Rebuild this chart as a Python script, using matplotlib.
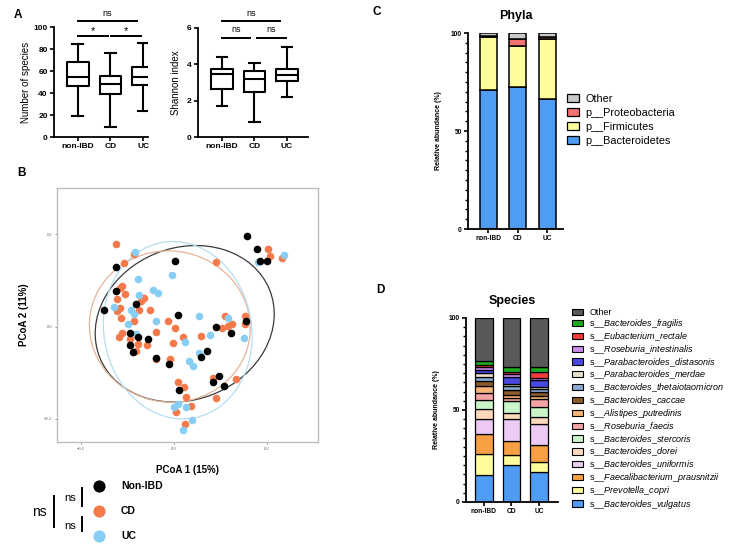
import matplotlib
matplotlib.use("Agg")
import matplotlib.pyplot as plt
import numpy as np
from matplotlib.patches import Ellipse, Patch
from matplotlib.lines import Line2D
from matplotlib.ticker import MultipleLocator

plt.rcParams['font.family'] = ['Liberation Sans', 'DejaVu Sans']
plt.rcParams['mathtext.fontset'] = 'custom'
plt.rcParams['mathtext.it'] = 'Liberation Sans:italic'
plt.rcParams['mathtext.rm'] = 'Liberation Sans'

grupos = ["non-IBD", "CD", "UC"]

# A: diversidad alfa (resumen de cajas)
especies_min = [19, 9, 23.5]
especies_q1 = [46, 39, 47]
especies_med = [55, 48, 54.5]
especies_q3 = [68, 55.5, 63.5]
especies_max = [84.5, 76, 85]

shannon_min = [1.70, 0.84, 2.18]
shannon_q1 = [2.62, 2.49, 3.09]
shannon_med = [3.46, 3.17, 3.41]
shannon_q3 = [3.72, 3.63, 3.74]
shannon_max = [4.41, 4.05, 4.96]

# B: PCoA
nonibd_x = [0.157, 0.179, 0.200, 0.002, -0.124, -0.124, -0.150, -0.081, 0.009, 0.155,
            0.091, 0.123, -0.094, -0.078, -0.057, -0.095, -0.088, 0.071, 0.058, -0.039,
            -0.011, 0.096, 0.083, 0.107, 0.010, 0.186]
nonibd_y = [0.195, 0.167, 0.143, 0.141, 0.128, 0.078, 0.035, 0.049, 0.025, 0.011,
            -0.002, -0.013, -0.014, -0.023, -0.027, -0.041, -0.056, -0.052, -0.067, -0.068,
            -0.081, -0.108, -0.120, -0.129, -0.138, 0.141]
cd_x = [-0.124, 0.202, 0.206, 0.232, 0.091, -0.107, -0.086, -0.111, -0.117, -0.105,
        -0.122, -0.116, -0.122, -0.114, -0.065, -0.071, -0.076, -0.052, -0.086, -0.012,
        0.002, -0.039, 0.019, -0.003, 0.057, 0.109, 0.117, 0.124, 0.104, 0.153,
        0.153, -0.112, -0.118, -0.078, -0.058, -0.081, -0.038, -0.009, 0.083, 0.134,
        0.009, 0.022, 0.026, 0.036, 0.091, 0.004, 0.024, -0.094]
cd_y = [0.179, 0.168, 0.153, 0.148, 0.139, 0.138, 0.157, 0.088, 0.084, 0.071,
        0.059, 0.040, 0.034, 0.018, 0.061, 0.056, 0.035, 0.036, 0.012, 0.013,
        -0.004, -0.011, -0.023, -0.035, -0.020, 0.022, 0.002, 0.005, -0.004, 0.023,
        0.006, -0.014, -0.023, -0.038, -0.041, -0.054, -0.070, -0.071, -0.112, -0.114,
        -0.120, -0.131, -0.153, -0.171, -0.155, -0.186, -0.210, -0.027]
uc_x = [-0.085, 0.236, 0.180, -0.004, -0.078, -0.045, -0.035, -0.076, -0.130, -0.093,
        -0.086, -0.100, -0.039, 0.053, 0.117, 0.078, -0.082, 0.024, 0.053, 0.032,
        0.040, 0.150, 0.001, 0.008, 0.026, 0.039, 0.019]
uc_y = [0.162, 0.155, 0.140, 0.111, 0.102, 0.079, 0.072, 0.068, 0.043, 0.036,
        0.027, 0.006, 0.012, 0.022, 0.019, -0.019, -0.016, -0.033, -0.058, -0.074,
        -0.085, -0.025, -0.175, -0.168, -0.174, -0.203, -0.224]

# elipses: centro x, centro y, ancho, alto, angulo (Non-IBD, CD, UC)
elipse_cx = [0.023, -0.009, 0.008]
elipse_cy = [0.006, 0.000, -0.008]
elipse_w = [0.394, 0.347, 0.318]
elipse_h = [0.329, 0.327, 0.386]
elipse_ang = [22, -10, 10]

# C: filos (%)
filos = ["p__Bacteroidetes", "p__Firmicutes", "p__Proteobacteria", "Other"]
bacteroidetes = [70.7, 72.3, 66.5]
firmicutes = [27.1, 20.9, 30.6]
proteobacteria = [0.7, 3.7, 0.9]
otros_filos = [1.5, 3.1, 2.0]

# D: especies (%), de abajo hacia arriba
especies = ["Bacteroides_vulgatus", "Prevotella_copri", "Faecalibacterium_prausnitzii",
            "Bacteroides_uniformis", "Bacteroides_dorei", "Bacteroides_stercoris",
            "Roseburia_faecis", "Alistipes_putredinis", "Bacteroides_caccae",
            "Bacteroides_thetaiotaomicron", "Parabacteroides_merdae",
            "Parabacteroides_distasonis", "Roseburia_intestinalis", "Eubacterium_rectale",
            "Bacteroides_fragilis", "Other"]
sp_nonibd = [14.8, 11.2, 10.8, 8.3, 5.3, 5.0, 4.0, 3.6, 2.9, 2.3, 1.9, 1.8, 1.2, 1.3, 2.0, 23.6]
sp_cd = [20.0, 5.6, 7.3, 12.0, 3.3, 6.9, 1.2, 1.8, 2.7, 2.2, 1.1, 3.9, 1.3, 1.3, 2.5, 26.9]
sp_uc = [16.1, 5.4, 9.5, 11.4, 4.0, 5.4, 4.3, 1.5, 2.3, 1.3, 1.1, 3.9, 1.3, 3.3, 2.3, 26.9]

col_grupos = ["#000000", "#f57a4b", "#88cdf3"]
col_elipses = ["#3a3a3a", "#e6b49c", "#b5def2"]
col_filos = ["#4e9cf4", "#fdfd9c", "#f27272", "#c9c9c9"]
col_especies = ["#4e9cf4", "#fdfd9c", "#f6a043", "#eccaf4", "#fcd9bc", "#c9f5c9",
                "#f5a3a3", "#f6b577", "#8a5a2b", "#8aa9d3", "#e9e2cb", "#4848e2",
                "#cd8bea", "#f23c3c", "#1eab1e", "#595959"]

fig = plt.figure(figsize=(7.33, 5.48), dpi=100)
W, H = 733, 548


def caja(l, t, r, b):
    return [l / W, 1 - b / H, (r - l) / W, (b - t) / H]


def ejes_graphpad(ax, tam=6):
    for s in ['top', 'right']:
        ax.spines[s].set_visible(False)
    for s in ['left', 'bottom']:
        ax.spines[s].set_linewidth(1.3)
    ax.tick_params(width=1.2, length=3, labelsize=tam, pad=1.5)
    for lab in ax.get_xticklabels() + ax.get_yticklabels():
        lab.set_fontweight('bold')


def cajas(ax, mn, q1, md, q3, mx):
    stats = [dict(whislo=mn[i], q1=q1[i], med=md[i], q3=q3[i], whishi=mx[i], fliers=[])
             for i in range(len(grupos))]
    lw = 1.5
    ax.bxp(stats, positions=range(len(grupos)), widths=0.67, capwidths=0.33,
           showfliers=False, boxprops=dict(linewidth=lw), whiskerprops=dict(linewidth=lw),
           capprops=dict(linewidth=lw), medianprops=dict(color='black', linewidth=lw))


def barra_sig(ax, x0, x1, y, txt, ytxt, tam):
    ax.plot([x0, x1], [y, y], color='black', lw=1.4, clip_on=False)
    ax.text((x0 + x1) / 2, ytxt, txt, ha='center', va='center', fontsize=tam, clip_on=False)


# ---- A1
ax1 = fig.add_axes(caja(54, 27, 148, 137))
cajas(ax1, especies_min, especies_q1, especies_med, especies_q3, especies_max)
ax1.set_xlim(-0.73, 2.15)
ax1.set_ylim(0, 100)
ax1.set_yticks([0, 20, 40, 60, 80, 100])
ax1.set_xticks(range(3))
ax1.set_xticklabels(grupos)
ax1.set_ylabel("Number of species", fontsize=7, labelpad=2)
ejes_graphpad(ax1)
barra_sig(ax1, 0, 0.91, 92, "*", 96.5, 8)
barra_sig(ax1, 1.03, 1.94, 92, "*", 96.5, 8)
barra_sig(ax1, 0, 1.82, 105.5, "ns", 112.5, 6.5)

# ---- A2
ax2 = fig.add_axes(caja(198, 28, 308, 137))
cajas(ax2, shannon_min, shannon_q1, shannon_med, shannon_q3, shannon_max)
ax2.set_xlim(-0.74, 2.65)
ax2.set_ylim(0, 6)
ax2.set_yticks([0, 2, 4, 6])
ax2.set_xticks(range(3))
ax2.set_xticklabels(grupos)
ax2.set_ylabel("Shannon index", fontsize=7, labelpad=4)
ejes_graphpad(ax2)
barra_sig(ax2, 0, 0.86, 5.47, "ns", 5.92, 6.5)
barra_sig(ax2, 1.08, 1.97, 5.47, "ns", 5.92, 6.5)
barra_sig(ax2, 0, 1.78, 6.37, "ns", 6.82, 6.5)

# ---- B
axb = fig.add_axes(caja(57, 188, 318, 442))
for i in range(3):
    axb.add_patch(Ellipse((elipse_cx[i], elipse_cy[i]), elipse_w[i], elipse_h[i],
                          angle=elipse_ang[i], fill=False, edgecolor=col_elipses[i],
                          linewidth=0.9, zorder=1))
sc_cd = axb.scatter(cd_x, cd_y, s=30, color=col_grupos[1], linewidths=0, zorder=2)
sc_uc = axb.scatter(uc_x, uc_y, s=30, color=col_grupos[2], linewidths=0, zorder=3)
sc_no = axb.scatter(nonibd_x, nonibd_y, s=30, color=col_grupos[0], linewidths=0, zorder=4)
axb.set_xlim(-0.252, 0.31)
axb.set_ylim(-0.25, 0.30)
axb.set_xticks([-0.2, 0.0, 0.2])
axb.set_yticks([-0.2, 0.0, 0.2])
axb.tick_params(labelsize=3, length=1.5, width=0.5, colors='#666666', pad=2)
for s in axb.spines.values():
    s.set_color('#bdbdbd')
    s.set_linewidth(1.0)
axb.set_xlabel("PCoA 1 (15%)", fontsize=7, fontweight='bold', labelpad=10)
axb.set_ylabel("PCoA 2 (11%)", fontsize=7, fontweight='bold', labelpad=11)

fig.legend([sc_no, sc_cd, sc_uc], ["Non-IBD", "CD", "UC"], loc='upper left',
           bbox_to_anchor=(94 / W, 1 - 481 / H), frameon=False, markerscale=1.6,
           prop=dict(size=7.5, weight='bold'), labelspacing=1.45, handlelength=1.0,
           handletextpad=1.6, borderpad=0, borderaxespad=0)

# corchetes ns de la leyenda
for (x, y0, y1) in [(82, 488, 506), (82, 517, 531), (54, 496, 527)]:
    fig.add_artist(Line2D([x / W, x / W], [1 - y0 / H, 1 - y1 / H], color='black', lw=1.4))
fig.text(70 / W, 1 - 498 / H, "ns", fontsize=8, ha='center', va='center')
fig.text(70 / W, 1 - 526 / H, "ns", fontsize=8, ha='center', va='center')
fig.text(39 / W, 1 - 512 / H, "ns", fontsize=10, ha='center', va='center')

# ---- C
axc = fig.add_axes(caja(468, 33, 563, 229))
x = np.arange(3)
base = np.zeros(3)
series_filos = [bacteroidetes, firmicutes, proteobacteria, otros_filos]
for nombre, vals, c in zip(filos, series_filos, col_filos):
    axc.bar(x, vals, bottom=base, width=0.58, color=c, edgecolor='black', linewidth=1.1,
            label=nombre)
    base += np.array(vals)
axc.set_xlim(-0.68, 2.54)
axc.set_ylim(0, 100)
axc.set_yticks([0, 50, 100])
axc.yaxis.set_minor_locator(MultipleLocator(5))
axc.set_xticks(x)
axc.set_xticklabels(grupos)
ejes_graphpad(axc, 4.8)
axc.tick_params(axis='y', which='minor', length=2, width=1.0)
axc.set_ylabel("Relative abundance (%)", fontsize=5, fontweight='bold', labelpad=6)
axc.set_title("Phyla", fontsize=9, fontweight='bold', pad=10)
hc = [Patch(facecolor=c, edgecolor='black', linewidth=0.9) for c in col_filos][::-1]
fig.legend(hc, filos[::-1], loc='upper left', bbox_to_anchor=(567 / W, 1 - 94 / H),
           frameon=False, fontsize=7.8, handlelength=1.1, handleheight=0.75,
           handletextpad=0.6, labelspacing=0.36, borderpad=0, borderaxespad=0)

# ---- D
axd = fig.add_axes(caja(466, 318, 558, 502))
base = np.zeros(3)
datos_sp = np.array([sp_nonibd, sp_cd, sp_uc])
for j, nombre in enumerate(especies):
    vals = datos_sp[:, j]
    axd.bar(x, vals, bottom=base, width=0.64, color=col_especies[j], edgecolor='black',
            linewidth=0.9)
    base += vals
axd.set_xlim(-0.65, 2.69)
axd.set_ylim(0, 100)
axd.set_yticks([0, 50, 100])
axd.yaxis.set_minor_locator(MultipleLocator(5))
axd.set_xticks(x)
axd.set_xticklabels(grupos)
ejes_graphpad(axd, 4.8)
axd.tick_params(axis='y', which='minor', length=2, width=1.0)
axd.set_ylabel("Relative abundance (%)", fontsize=5, fontweight='bold', labelpad=6)
axd.set_title("Species", fontsize=9, fontweight='bold', pad=10)
etiquetas_sp = ["s__$\\it{" + n.replace("_", "\\_") + "}$" if n != "Other" else n
                for n in especies]
hd = [Patch(facecolor=c, edgecolor='black', linewidth=0.8) for c in col_especies][::-1]
fig.legend(hd, etiquetas_sp[::-1], loc='upper left', bbox_to_anchor=(572 / W, 1 - 308 / H),
           frameon=False, fontsize=6.5, handlelength=1.2, handleheight=0.7,
           handletextpad=0.7, labelspacing=0.02, borderpad=0, borderaxespad=0)

# letras de panel
for letra, (px, py) in zip("ABCD", [(18, 15), (22, 173), (377, 12), (380, 290)]):
    fig.text(px / W, 1 - py / H, letra, fontsize=8.5, fontweight='bold', ha='center',
             va='center')

fig.savefig("out.png", dpi=100)
